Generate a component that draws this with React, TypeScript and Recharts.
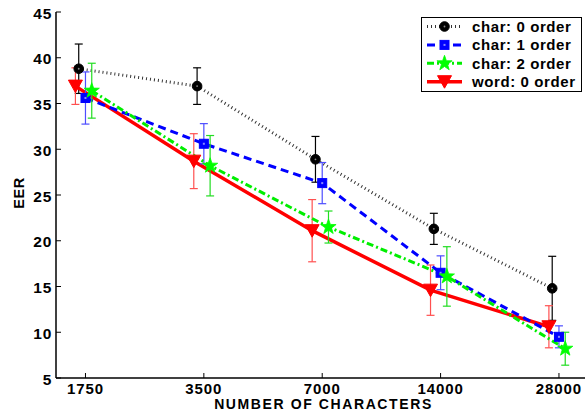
import React from 'react';
import { LineChart, Line, XAxis, YAxis, ErrorBar, Legend, Label } from 'recharts';

// ---- data ----
const categories = ['1750', '3500', '7000', '14000', '28000'];
const catIndex = [0, 1, 2, 3, 4];
const yTicks = [5, 10, 15, 20, 25, 30, 35, 40, 45];

const char0Values = [38.8, 36.9, 28.9, 21.3, 14.8];
const char0Errors = [2.7, 2.0, 2.5, 1.7, 3.5];
const char1Values = [35.6, 30.6, 26.3, 16.5, 9.5];
const char1Errors = [2.85, 2.2, 2.25, 1.85, 1.2];
const char2Values = [36.4, 28.2, 21.5, 16.1, 8.2];
const char2Errors = [3.0, 3.3, 1.75, 3.25, 1.8];
const word0Values = [36.9, 28.7, 21.1, 14.6, 10.6];
const word0Errors = [2.0, 3.0, 3.4, 2.75, 2.3];

// horizontal jitter of each series around the category (in category units)
const char0Shift = -0.057;
const char1Shift = 0;
const char2Shift = 0.053;
const word0Shift = -0.085;

const build = (vals: number[], errs: number[], shift: number) =>
  vals.map((v, i) => ({ x: catIndex[i] + shift, y: v, err: errs[i] }));

const char0Data = build(char0Values, char0Errors, char0Shift);
const char1Data = build(char1Values, char1Errors, char1Shift);
const char2Data = build(char2Values, char2Errors, char2Shift);
const word0Data = build(word0Values, word0Errors, word0Shift);

const FONT = '"Liberation Sans", Arial, Helvetica, sans-serif';

type Kind = 'circle' | 'square' | 'star' | 'tri';

const Marker = ({ kind, cx, cy, color }: { kind: Kind; cx: number; cy: number; color: string }) => {
  if (kind === 'circle') {
    return (
      <g>
        <circle cx={cx} cy={cy} r={4.8} fill={color} stroke={color} strokeWidth={1} />
        <circle cx={cx} cy={cy} r={0.9} fill="#888" />
      </g>
    );
  }
  if (kind === 'square') {
    return (
      <g>
        <rect x={cx - 4.5} y={cy - 4.5} width={9} height={9} fill={color} stroke={color} strokeWidth={1} />
        <rect x={cx - 1} y={cy - 1} width={2} height={2} fill="#8888ff" />
      </g>
    );
  }
  if (kind === 'star') {
    const R = 8;
    const r = R * 0.4;
    const pts: string[] = [];
    for (let k = 0; k < 10; k++) {
      const ang = -Math.PI / 2 + (k * Math.PI) / 5;
      const rad = k % 2 === 0 ? R : r;
      pts.push(`${cx + rad * Math.cos(ang)},${cy + rad * Math.sin(ang)}`);
    }
    return <polygon points={pts.join(' ')} fill={color} stroke={color} strokeWidth={0.8} />;
  }
  return (
    <polygon
      points={`${cx - 7},${cy - 6} ${cx + 7},${cy - 6} ${cx},${cy + 6.5}`}
      fill={color}
      stroke={color}
      strokeWidth={1}
    />
  );
};

const seriesList = [
  { name: 'char: 0 order', kind: 'circle' as Kind, color: '#000000', lineColor: '#333333', width: 3, dash: '1 3', errColor: '#000000', data: char0Data },
  { name: 'char: 1 order', kind: 'square' as Kind, color: '#0000ff', lineColor: '#0000ff', width: 3, dash: '8 5', errColor: '#4d4dff', data: char1Data },
  { name: 'char: 2 order', kind: 'star' as Kind, color: '#00ff00', lineColor: '#00ee00', width: 3, dash: '7 3 2 3', errColor: '#22dd22', data: char2Data },
  { name: 'word: 0 order', kind: 'tri' as Kind, color: '#ff0000', lineColor: '#ff0000', width: 3.5, dash: undefined, errColor: '#ff5050', data: word0Data },
];

const drawOrder = [0, 3, 1, 2];

const XTick = (props: any) => {
  const { x, y, payload } = props;
  const label = categories[catIndex.indexOf(payload.value)];
  return (
    <g>
      <line x1={x} y1={y} x2={x} y2={y - 5} stroke="#000" strokeWidth={1} />
      <text x={x} y={y + 15.5} textAnchor="middle" fontFamily={FONT} fontWeight="bold" fontSize={15} letterSpacing={0.9} fill="#000">
        {label}
      </text>
    </g>
  );
};

const XTopTick = (props: any) => {
  const { x, y } = props;
  return <line x1={x} y1={y} x2={x} y2={y + 5} stroke="#000" strokeWidth={1} />;
};

const YTick = (props: any) => {
  const { x, y, payload } = props;
  return (
    <g>
      <line x1={x} y1={y} x2={x + 5} y2={y} stroke="#000" strokeWidth={1} />
      <text x={x - 4} y={y + 1} dy="0.36em" textAnchor="end" fontFamily={FONT} fontWeight="bold" fontSize={15.5} letterSpacing={0.7} fill="#000">
        {payload.value}
      </text>
    </g>
  );
};

const YRightTick = (props: any) => {
  const { x, y } = props;
  return <line x1={x} y1={y} x2={x - 5} y2={y} stroke="#000" strokeWidth={1} />;
};

const XTitle = (props: any) => {
  const vb = props.viewBox || {};
  const cx = vb.x + vb.width / 2 + 3;
  const by = vb.y + vb.height - 3;
  return (
    <text x={cx} y={by} textAnchor="middle" fontFamily={FONT} fontWeight="bold" fontSize={14} letterSpacing={1.6} fill="#000">
      NUMBER OF CHARACTERS
    </text>
  );
};

const YTitle = (props: any) => {
  const vb = props.viewBox || {};
  const cx = vb.x + 19;
  const cy = vb.y + vb.height / 2 - 2;
  return (
    <text
      x={cx}
      y={cy}
      transform={`rotate(-90 ${cx} ${cy})`}
      textAnchor="middle"
      dy="0.36em"
      fontFamily={FONT}
      fontWeight="bold"
      fontSize={14.5}
      letterSpacing={0.6}
      fill="#000"
    >
      EER
    </text>
  );
};

const LegendBox = () => (
  <svg width={162} height={76} style={{ display: 'block' }}>
    <rect x={0.5} y={0.5} width={160} height={74} fill="#fff" stroke="#000" strokeWidth={1} />
    {seriesList.map((s, i) => {
      const cy = 9.5 + i * 18.4;
      return (
        <g key={s.name}>
          <line x1={6} x2={41} y1={cy} y2={cy} stroke={s.lineColor} strokeWidth={s.width} strokeDasharray={s.dash} />
          <Marker kind={s.kind} cx={23.5} cy={cy} color={s.color} />
          <text x={51} y={cy} dy="0.36em" fontFamily={FONT} fontWeight="bold" fontSize={15} letterSpacing={0.6} fill="#000">
            {s.name}
          </text>
        </g>
      );
    })}
  </svg>
);

export default function App() {
  return (
    <div style={{ position: 'absolute', left: 0, top: 0, width: 587, height: 412, background: '#fff' }}>
      <LineChart width={587} height={412} margin={{ top: 12, right: 2, bottom: 0, left: 0 }}>
        <XAxis
          xAxisId="b"
          dataKey="x"
          type="number"
          domain={[-0.249, 4.22]}
          ticks={catIndex}
          allowDataOverflow
          height={34}
          tickSize={0}
          tickMargin={0}
          tickLine={false}
          tick={<XTick />}
          axisLine={{ stroke: '#000', strokeWidth: 1.5 }}
          interval={0}
        >
          <Label content={<XTitle />} />
        </XAxis>
        <XAxis
          xAxisId="t"
          orientation="top"
          dataKey="x"
          type="number"
          domain={[-0.249, 4.22]}
          ticks={catIndex}
          allowDataOverflow
          height={0}
          tickSize={0}
          tickMargin={0}
          tickLine={false}
          tick={<XTopTick />}
          axisLine={{ stroke: '#000', strokeWidth: 1.5 }}
          interval={0}
        />
        <YAxis
          yAxisId="l"
          type="number"
          domain={[5, 45]}
          ticks={yTicks}
          allowDataOverflow
          width={56}
          tickSize={0}
          tickMargin={0}
          tickLine={false}
          tick={<YTick />}
          axisLine={{ stroke: '#000', strokeWidth: 1.5 }}
          interval={0}
        >
          <Label content={<YTitle />} />
        </YAxis>
        <YAxis
          yAxisId="r"
          orientation="right"
          type="number"
          domain={[5, 45]}
          ticks={yTicks}
          allowDataOverflow
          width={0}
          tickSize={0}
          tickMargin={0}
          tickLine={false}
          tick={<YRightTick />}
          axisLine={{ stroke: '#000', strokeWidth: 1.5 }}
          interval={0}
        />
        {drawOrder.map((idx) => {
          const s = seriesList[idx];
          return (
            <Line
              key={s.name}
              xAxisId="b"
              yAxisId="l"
              data={s.data}
              dataKey="y"
              name={s.name}
              stroke={s.lineColor}
              strokeWidth={s.width}
              strokeDasharray={s.dash}
              isAnimationActive={false}
              dot={(p: any) => <Marker key={`${s.name}-${p.index}`} kind={s.kind} cx={p.cx} cy={p.cy} color={s.color} />}
              activeDot={false}
            >
              <ErrorBar dataKey="err" direction="y" width={4} stroke={s.errColor} strokeWidth={1.2} isAnimationActive={false} />
            </Line>
          );
        })}
        <Legend
          layout="vertical"
          align="center"
          verticalAlign="middle"
          content={() => <LegendBox />}
          wrapperStyle={{ position: 'absolute', left: 421, top: 17, width: 162, height: 76 }}
        />
      </LineChart>
    </div>
  );
}
